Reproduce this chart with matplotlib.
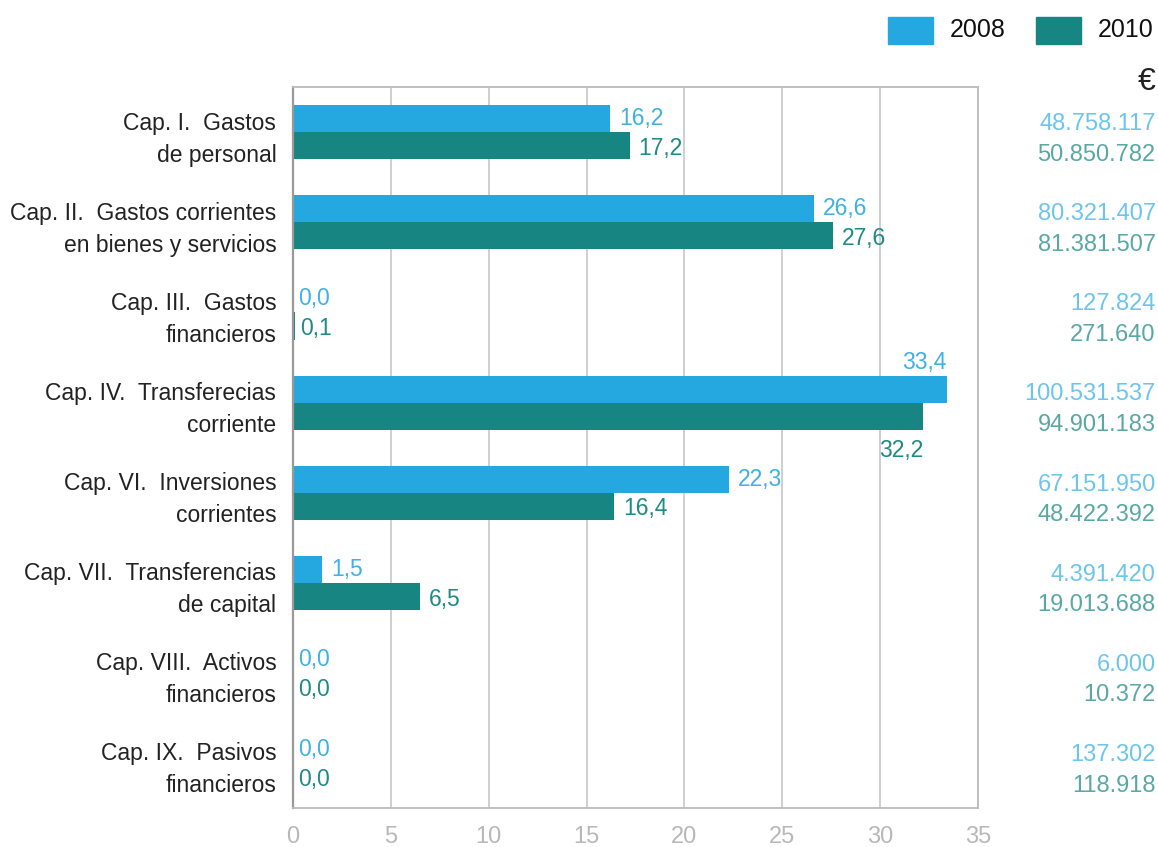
import matplotlib
matplotlib.use("Agg")
import matplotlib.pyplot as plt
from matplotlib.patches import Rectangle
import matplotlib.transforms as mtransforms

plt.rcParams["font.family"] = ["Liberation Sans", "DejaVu Sans"]

# ---------------------------------------------------------------
# data (percent shares and euro amounts)
# ---------------------------------------------------------------
categories = [
    "Cap. I.  Gastos\nde personal",
    "Cap. II.  Gastos corrientes\nen bienes y servicios",
    "Cap. III.  Gastos\nfinancieros",
    "Cap. IV.  Transferecias\ncorriente",
    "Cap. VI.  Inversiones\ncorrientes",
    "Cap. VII.  Transferencias\nde capital",
    "Cap. VIII.  Activos\nfinancieros",
    "Cap. IX.  Pasivos\nfinancieros",
]
pct_2008 = [16.2, 26.6, 0.0, 33.4, 22.3, 1.5, 0.0, 0.0]
pct_2010 = [17.2, 27.6, 0.1, 32.2, 16.4, 6.5, 0.0, 0.0]
eur_2008 = [48758117, 80321407, 127824, 100531537, 67151950, 4391420, 6000, 137302]
eur_2010 = [50850782, 81381507, 271640, 94901183, 48422392, 19013688, 10372, 118918]
series_names = ["2008", "2010"]
x_ticks = [0, 5, 10, 15, 20, 25, 30, 35]

C08 = "#25a8e0"
C10 = "#178582"
LBL08 = "#3fb1e3"
LBL10 = "#208a86"
EUR08 = "#6cc5ec"
EUR10 = "#5aa8a4"


def pct_fmt(v):
    return f"{v:.1f}".replace(".", ",")


def eur_fmt(v):
    return f"{v:,}".replace(",", ".")


fig = plt.figure(figsize=(11.58, 8.47), dpi=100)
ax = fig.add_axes([0.253, 0.046, 0.5916, 0.851])

h = 0.3
ys = list(range(len(categories)))
y08 = [y - h / 2 for y in ys]
y10 = [y + h / 2 for y in ys]
ax.barh(y08, pct_2008, height=h, color=C08, zorder=2)
ax.barh(y10, pct_2010, height=h, color=C10, zorder=2)

ax.set_xlim(0, 35)
ax.set_ylim(len(categories) - 0.5, -0.5)
ax.set_xticks(x_ticks)
ax.set_xticklabels([str(t) for t in x_ticks])
ax.set_yticks(ys)
ax.set_yticklabels(categories, fontsize=16.5, color="#222222", linespacing=1.5)
ax.tick_params(axis="y", length=0, pad=12)
ax.tick_params(axis="x", length=0, pad=13, labelsize=17, labelcolor="#b8b8b8")
for lbl in ax.get_yticklabels():
    lbl.set_horizontalalignment("right")

ax.grid(axis="x", color="#cccccc", linewidth=1.3, zorder=0)
ax.set_axisbelow(True)
for side in ["top", "right", "bottom"]:
    ax.spines[side].set_color("#bbbbbb")
    ax.spines[side].set_linewidth(1.3)
ax.spines["left"].set_color("#999999")
ax.spines["left"].set_linewidth(1.6)

# value labels next to bars
for vals, ypos, col, above in [(pct_2008, y08, LBL08, True), (pct_2010, y10, LBL10, False)]:
    for v, y in zip(vals, ypos):
        if v > 30:
            dy = -0.3 if above else 0.38
            ax.text(v, y + dy, pct_fmt(v), ha="right", va="center",
                    fontsize=16.5, color=col)
        else:
            nudge = 0.0 if above else 0.03
            pad = 0.45 if v > 0.5 else 0.25
            ax.text(v + pad, y + nudge, pct_fmt(v), ha="left", va="center",
                    fontsize=16.5, color=col)

# euro column on the right
trans = mtransforms.blended_transform_factory(fig.transFigure, ax.transData)
for vals, off, col in [(eur_2008, -0.09, EUR08), (eur_2010, 0.25, EUR10)]:
    for v, y in zip(vals, ys):
        ax.text(0.998, y + off, eur_fmt(v), transform=trans, ha="right", va="center",
                fontsize=17, color=col, clip_on=False)

fig.text(0.998, 0.903, "€", ha="right", va="center", fontsize=23, color="#222222")

# legend
for i, (name, col) in enumerate(zip(series_names, [C08, C10])):
    x0 = 0.7668 + i * 0.128
    fig.patches.append(Rectangle((x0, 0.948), 0.039, 0.032, transform=fig.transFigure,
                                 color=col, figure=fig))
    fig.text(x0 + 0.053, 0.964, name, ha="left", va="center", fontsize=18,
             color="#111111")

plt.savefig("out.png", dpi=100)
plt.close()
